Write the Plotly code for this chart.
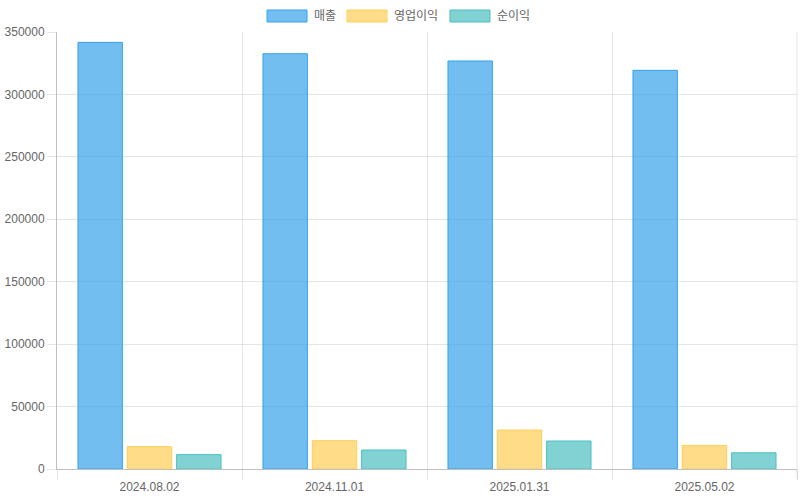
import plotly.graph_objects as go

dates = ['2024.08.02', '2024.11.01', '2025.01.31', '2025.05.02']
revenue = [341700, 332600, 326800, 319300]
op_profit = [17900, 22700, 31200, 18900]
net_profit = [11500, 15200, 22400, 13000]

series = [
    ('매출', revenue, '54,162,235'),
    ('영업이익', op_profit, '255,206,86'),
    ('순이익', net_profit, '75,192,192'),
]

FONT = 'Liberation Sans, Arial, Noto Sans CJK KR, sans-serif'

# plot area in page pixels
L, R, T, B = 57, 797, 32, 469
W, H = R - L, B - T

fig = go.Figure()
for name, vals, rgb in series:
    fig.add_trace(go.Bar(
        x=dates, y=vals, name=name,
        marker=dict(color='rgba(%s,0.7)' % rgb,
                    line=dict(color='rgb(%s)' % rgb, width=1)),
        showlegend=False,
    ))

# chart.js style legend: wide boxes + labels, centred at the top
legend_left = [267, 347, 450]
for (name, vals, rgb), px in zip(series, legend_left):
    fig.add_shape(type='rect', xref='paper', yref='paper',
                  x0=(px - L) / W, x1=(px + 40 - L) / W,
                  y0=(B - 22) / H, y1=(B - 10) / H,
                  fillcolor='rgba(%s,0.7)' % rgb,
                  line=dict(color='rgb(%s)' % rgb, width=1))
    fig.add_annotation(xref='paper', yref='paper',
                       x=(px + 45 - L) / W, y=(B - 16) / H,
                       text=name, showarrow=False,
                       xanchor='left', yanchor='middle',
                       font=dict(size=12, color='#666', family=FONT))

# right border of the grid (last category boundary)
fig.add_shape(type='line', xref='paper', yref='paper',
              x0=1, x1=1, y0=-10 / H, y1=1,
              line=dict(color='rgba(0,0,0,0.1)', width=1))

fig.update_layout(
    width=800, height=500,
    margin=dict(l=L, r=800 - R, t=T, b=500 - B),
    paper_bgcolor='white', plot_bgcolor='white',
    barmode='group', bargap=0.2, bargroupgap=0.1,
    font=dict(family=FONT, size=12, color='#666'),
    showlegend=False,
)
fig.update_xaxes(
    type='category', tickson='boundaries', automargin=False,
    showgrid=True, gridcolor='rgba(0,0,0,0.1)', gridwidth=1,
    ticks='outside', ticklen=10, tickcolor='rgba(0,0,0,0.1)',
    showline=True, linecolor='rgba(0,0,0,0.25)', linewidth=1,
    tickfont=dict(size=12, color='#666'),
    ticklabelstandoff=7,
)
fig.update_yaxes(
    range=[0, 350000], tickvals=list(range(0, 350001, 50000)),
    automargin=False,
    showgrid=True, gridcolor='rgba(0,0,0,0.1)', gridwidth=1,
    zeroline=False,
    ticks='outside', ticklen=9, tickcolor='rgba(0,0,0,0.1)',
    showline=True, linecolor='rgba(0,0,0,0.25)', linewidth=1,
    tickfont=dict(size=12, color='#666'),
    tickformat='d',
)

# drop the default 8px page margin so the chart fills the window
fig.write_html('out.html', config={'displayModeBar': False},
               post_script="document.body.style.margin='0';")
